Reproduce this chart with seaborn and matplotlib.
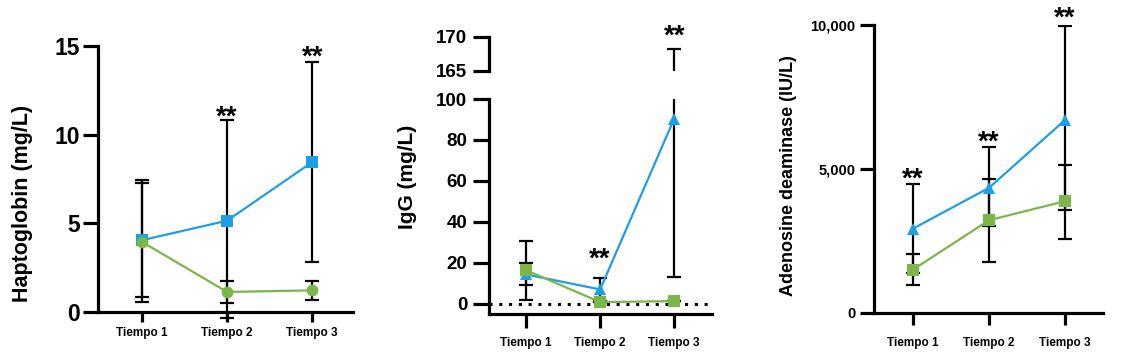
import numpy as np
import pandas as pd
import matplotlib
matplotlib.use("Agg")
import matplotlib.pyplot as plt
import seaborn as sns

# ---------------- data ----------------
times = ["Tiempo 1", "Tiempo 2", "Tiempo 3"]

hapto_blue = [4.05, 5.15, 8.45]
hapto_blue_hi = [7.45, 10.8, 14.1]
hapto_blue_lo = [0.85, -0.35, 2.8]
hapto_green = [3.95, 1.13, 1.22]
hapto_green_hi = [7.25, 1.73, 1.73]
hapto_green_lo = [0.56, 0.51, 0.70]
hapto_sig = [False, True, True]

igg_blue = [14.3, 7.0, 90.4]
igg_blue_hi = [30.6, 12.5, 168.2]
igg_blue_lo = [1.6, 1.5, 13.2]
igg_green = [16.4, 0.8, 1.3]
igg_green_hi = [19.7, 0.8, 1.3]
igg_green_lo = [9.1, 0.8, 1.3]
igg_sig = [False, True, True]

ada_blue = [2930, 4345, 6700]
ada_blue_hi = [4473, 5771, 9965]
ada_blue_lo = [1400, 3013, 3569]
ada_green = [1506, 3221, 3882]
ada_green_hi = [2039, 4647, 5156]
ada_green_lo = [962, 1773, 2584]
ada_sig = [True, True, True]

BLUE = "#1e9fe3"
GREEN = "#7bb64b"

sns.set_style("ticks")
plt.rcParams["font.family"] = ["Liberation Sans", "DejaVu Sans"]
plt.rcParams["font.weight"] = "bold"
for k in ["text.color", "axes.labelcolor", "xtick.color", "ytick.color",
          "xtick.labelcolor", "ytick.labelcolor", "axes.edgecolor"]:
    plt.rcParams[k] = "black"

x = np.arange(len(times))

fig = plt.figure(figsize=(11.24, 3.64), dpi=100)
W, H = 1124, 364
ax1 = fig.add_axes([98 / W, 1 - 312 / H, 255 / W, 266 / H])
ax2 = fig.add_axes([489 / W, 1 - 314 / H, 223 / W, 215 / H])
ax2t = fig.add_axes([489 / W, 1 - 71 / H, 223 / W, 34 / H])
ax3 = fig.add_axes([874 / W, 1 - 313 / H, 229 / W, 288 / H])


def errbars(ax, mean, hi, lo, clip=True):
    mean = np.array(mean, float)
    yerr = np.vstack([mean - np.array(lo, float), np.array(hi, float) - mean])
    eb = ax.errorbar(x, mean, yerr=yerr, fmt="none", ecolor="black",
                     elinewidth=1.6, capsize=5, capthick=1.6, zorder=2)
    if not clip:
        for art in list(eb.lines[1]) + list(eb.lines[2]):
            art.set_clip_on(False)


def series(ax, vals, color, marker, ms):
    df = pd.DataFrame({"t": x, "v": vals})
    sns.lineplot(data=df, x="t", y="v", ax=ax, color=color, marker=marker,
                 markersize=ms, markeredgewidth=0, linewidth=1.6, zorder=3)


def stars(ax, hi, sig, offset_pt, fs=20):
    for i, (h, s) in enumerate(zip(hi, sig)):
        if s:
            ax.annotate("**", xy=(x[i], h), xytext=(0, offset_pt[i]),
                        textcoords="offset points", ha="center", va="baseline",
                        fontsize=fs, fontweight="bold", color="black",
                        annotation_clip=False)


def style(ax, tick_fs, ylen, xlen, xpad, ypad):
    for sp in ["top", "right"]:
        ax.spines[sp].set_visible(False)
    for sp in ["left", "bottom"]:
        ax.spines[sp].set_linewidth(2.3)
        ax.spines[sp].set_color("black")
    ax.tick_params(axis="y", length=ylen, width=2.3, labelsize=tick_fs, pad=ypad,
                   color="black", labelcolor="black")
    ax.tick_params(axis="x", length=xlen, width=2.3, labelsize=8.5, pad=xpad,
                   color="black", labelcolor="black")
    ax.set_xticks(x)
    ax.set_xticklabels(times, fontweight="bold")
    for lab in ax.get_yticklabels():
        lab.set_fontweight("bold")
    ax.set_xlabel("")


# ---------------- panel 1 ----------------
errbars(ax1, hapto_blue, hapto_blue_hi, hapto_blue_lo, clip=False)
errbars(ax1, hapto_green, hapto_green_hi, hapto_green_lo)
series(ax1, hapto_blue, BLUE, "s", 9)
series(ax1, hapto_green, GREEN, "o", 8.5)
ax1.set_xlim(-0.518, 2.48)
ax1.set_ylim(0, 15)
ax1.set_yticks([0, 5, 10, 15])
style(ax1, 16.5, 11, 7, 3.5, 2)
ax1.set_ylabel("Haptoglobin (mg/L)", fontsize=15.5, fontweight="bold")
ax1.yaxis.set_label_coords(-0.255, 0.41)
stars(ax1, hapto_blue_hi, hapto_sig, [-1, -3, -2])

# ---------------- panel 2 (broken axis) ----------------
for a in (ax2, ax2t):
    errbars(a, igg_blue, igg_blue_hi, igg_blue_lo)
    errbars(a, igg_green, igg_green_hi, igg_green_lo)
    series(a, igg_blue, BLUE, "^", 8)
    series(a, igg_green, GREEN, "s", 8)
    a.set_xlim(-0.5, 2.51)
ax2.axhline(0, color="black", linestyle=(0, (1, 2.2)), linewidth=2.2, zorder=1)
ax2.set_ylim(-5, 100)
ax2.set_yticks([0, 20, 40, 60, 80, 100])
style(ax2, 13.5, 11.5, 10, 6.5, 4)
ax2.set_ylabel("IgG (mg/L)", fontsize=15, fontweight="bold")
ax2.yaxis.set_label_coords(-0.323, 0.64)
stars(ax2, igg_blue_hi, [False, True, False], [0, 8, 0])

ax2t.set_ylim(165, 170)
ax2t.set_yticks([165, 170])
for sp in ["top", "right", "bottom"]:
    ax2t.spines[sp].set_visible(False)
ax2t.spines["left"].set_linewidth(2.3)
ax2t.spines["left"].set_color("black")
ax2t.tick_params(axis="y", length=11.5, width=2.3, labelsize=13.5, pad=4,
                 color="black", labelcolor="black")
ax2t.tick_params(axis="x", bottom=False, labelbottom=False)
ax2t.set_xlabel("")
ax2t.set_ylabel("")
for lab in ax2t.get_yticklabels():
    lab.set_fontweight("bold")
ax2t.patch.set_alpha(0)
stars(ax2t, igg_blue_hi, [False, False, True], [0, 0, 4])

# ---------------- panel 3 ----------------
errbars(ax3, ada_blue, ada_blue_hi, ada_blue_lo)
errbars(ax3, ada_green, ada_green_hi, ada_green_lo)
series(ax3, ada_blue, BLUE, "^", 8)
series(ax3, ada_green, GREEN, "s", 8)
ax3.set_xlim(-0.513, 2.5)
ax3.set_ylim(0, 10000)
ax3.set_yticks([0, 5000, 10000])
ax3.set_yticklabels(["0", "5,000", "10,000"])
style(ax3, 10.5, 10, 8.5, 8.5, 3.5)
ax3.set_ylabel("Adenosine deaminase (IU/L)", fontsize=13, fontweight="bold")
ax3.yaxis.set_label_coords(-0.336, 0.476)
stars(ax3, ada_blue_hi, ada_sig, [-2, -2, 0])

fig.savefig("out.png", dpi=100)
